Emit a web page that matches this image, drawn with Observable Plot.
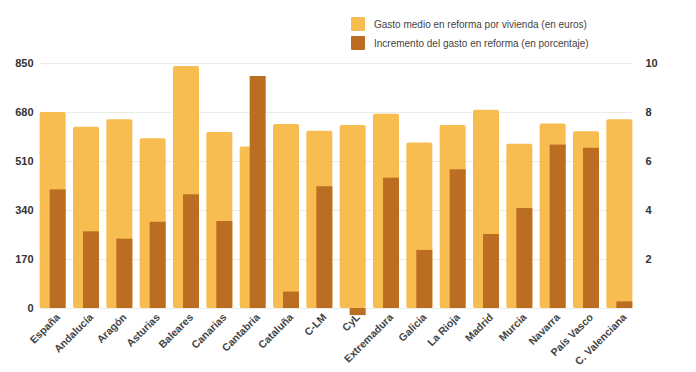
<!DOCTYPE html>
<html><head><meta charset="utf-8">
<script src="https://cdn.jsdelivr.net/npm/d3@7"></script>
<script src="https://cdn.jsdelivr.net/npm/@observablehq/plot@0.6"></script>
<style>
body{margin:0;background:#fff;font-family:"Liberation Sans",Arial,sans-serif;}
#wrap{position:relative;width:696px;height:372px;}
.leg{position:absolute;left:351px;font-size:10px;color:#444;display:flex;align-items:center;height:14px;}
.leg span.sw{width:14px;height:14px;display:inline-block;margin-right:9px;border-radius:1px;}
</style></head>
<body>
<div id="wrap">
<div class="leg" style="top:17px"><span class="sw" style="background:#f7bd50"></span>Gasto medio en reforma por vivienda (en euros)</div>
<div class="leg" style="top:36px"><span class="sw" style="background:#bb6e22"></span>Incremento del gasto en reforma (en porcentaje)</div>
</div>
<script>
const regiones = ["España","Andalucía","Aragón","Asturias","Baleares","Canarias","Cantabria","Cataluña","C-LM","CyL","Extremadura","Galicia","La Rioja","Madrid","Murcia","Navarra","País Vasco","C. Valenciana"];
const gastoMedio = [680,629,655,589,840,611,560,638,615,635,674,574,635,688,570,640,613,655];
const incremento = [4.84,3.13,2.83,3.52,4.64,3.55,9.47,0.67,4.97,-0.29,5.32,2.37,5.66,3.02,4.08,6.67,6.54,0.27];
const leftTicks = [0,170,340,510,680,850];
const rightTicks = [2,4,6,8,10];

const ratio = 850/10;
const data = regiones.map((r,i)=>({region:r, gasto:gastoMedio[i], inc:incremento[i]}));

const chart = Plot.plot({
  width:696, height:372,
  marginTop:63, marginBottom:64, marginLeft:36, marginRight:60,
  style:{fontFamily:"'Liberation Sans',Arial,sans-serif", background:"#fff"},
  x:{domain:regiones, paddingInner:0.22, paddingOuter:0.11, round:false},
  y:{domain:[0,850]},
  marks:[
    Plot.ruleY(leftTicks,{stroke:"#ebebeb", strokeWidth:1, insetLeft:4, insetRight:3}),
    Plot.barY(data,{x:"region", y:"gasto", fill:"#f7bd50", rx:2}),
    Plot.barY(data,{x:"region", y1:0, y2:d=>d.inc*ratio, fill:"#bb6e22", insetLeft:10}),
    Plot.axisY(leftTicks,{anchor:"left", tickSize:0, tickPadding:3, fontWeight:"bold", fontSize:11, fill:"#333", label:null}),
    Plot.axisY(rightTicks.map(v=>v*ratio),{anchor:"right", tickSize:0, tickPadding:9, fontWeight:"bold", fontSize:11, fill:"#333", textAnchor:"start", tickFormat:d=>String(Math.round(d/ratio)), label:null}),
    Plot.axisX({tickSize:0, tickRotate:-45, tickPadding:7, fontWeight:"bold", fontSize:10.5, fill:"#444", label:null, dx:5})
  ]
});
chart.style.position="absolute";
chart.style.left="0";chart.style.top="0";
document.getElementById("wrap").prepend(chart);
</script>
</body></html>
